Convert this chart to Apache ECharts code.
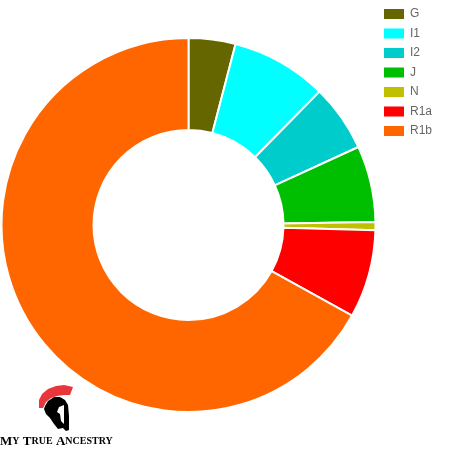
<!DOCTYPE html>
<html><head><meta charset="utf-8">
<script src="https://cdn.jsdelivr.net/npm/echarts@6/dist/echarts.min.js"></script>
<style>html,body{margin:0;padding:0;background:#fff}#c{width:450px;height:450px}</style>
</head><body><div id="c"></div>
<script>
const categories = ['G','I1','I2','J','N','R1a','R1b'];
const values = [4.05, 8.3, 5.8, 6.6, 0.7, 7.6, 66.95];
const colors = ['#666600','#00ffff','#00cccc','#00bf00','#c0c000','#ff0000','#ff6600'];

const chart = echarts.init(document.getElementById('c'));
chart.setOption({
  animation: false,
  color: colors,
  legend: {
    orient: 'vertical', left: 377, top: 2,
    itemWidth: 22, itemHeight: 12, itemGap: 5.5,
    icon: 'rect',
    textStyle: { color: '#666', fontSize: 12, fontFamily: 'Liberation Sans, Arial' },
    data: categories
  },
  series: [{
    type: 'pie',
    center: [188.5, 225],
    radius: [95, 187],
    startAngle: 90,
    clockwise: true,
    label: { show: false },
    labelLine: { show: false },
    itemStyle: { borderColor: '#fff', borderWidth: 2 },
    emphasis: { disabled: true },
    data: categories.map((c, i) => ({ name: c, value: values[i] }))
  }],
  graphic: [
    { type: 'polygon', shape: { points: [[39,408],[39,400],[42,394],[48,389],[56,386],[64,385],[73,387],[70,395],[64,395],[57,396],[51,398],[46,402],[43,408]] }, style: { fill: '#e8363a' } },
    { type: 'polygon', shape: { points: [[45,406],[48,401],[54,397],[60,397],[65,400],[68,405],[69,416],[69,430],[66,431],[63,428],[58,429],[54,424],[50,418],[46,414],[44,409]] }, style: { fill: '#000' } },
    { type: 'polygon', shape: { points: [[59,407],[64,405],[64,424],[61,421],[60,414],[57,412]] }, style: { fill: '#fff' } },
    { type: 'text', left: 0, top: 435, style: {
        text: '{b|M}{s|Y} {b|T}{s|RUE} {b|A}{s|NCESTRY}',
        rich: {
          b: { fontFamily: 'Liberation Serif, serif', fontWeight: 'bold', fontSize: 13, fill: '#000' },
          s: { fontFamily: 'Liberation Serif, serif', fontWeight: 'bold', fontSize: 10, fill: '#000' }
        }
    } }
  ]
});
</script></body></html>
